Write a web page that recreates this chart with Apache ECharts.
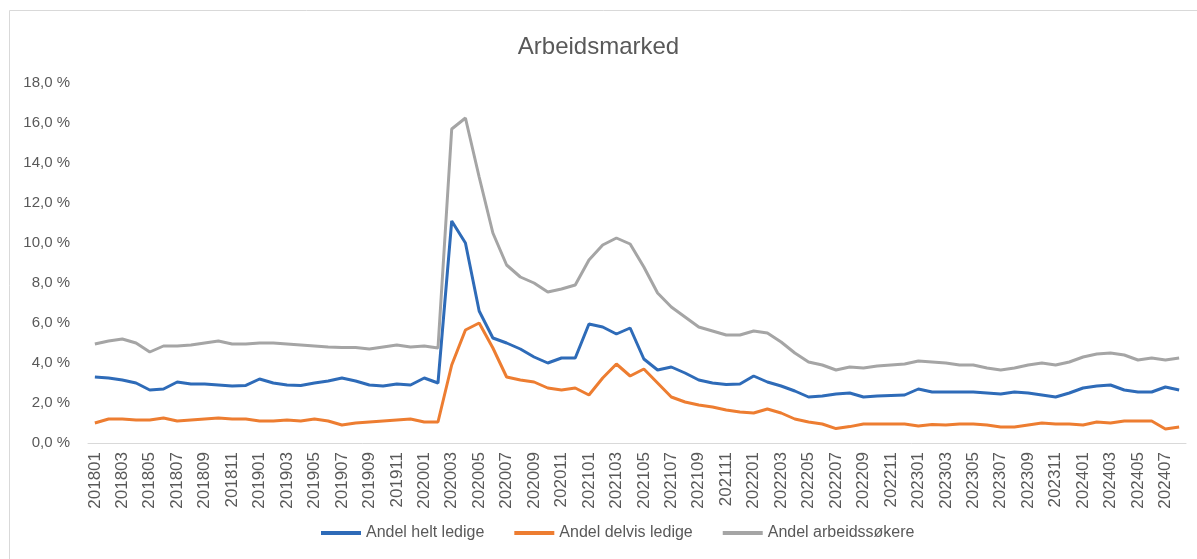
<!DOCTYPE html>
<html lang="no">
<head>
    <meta charset="UTF-8">
    <title>Arbeidsmarked</title>
    <script src="https://cdn.jsdelivr.net/npm/echarts@6/dist/echarts.min.js"></script>
    <style>
        html, body {margin: 0; padding: 0; background: #fff;}
        #main {width: 1197px; height: 559px;}
    </style>
</head>
<body>
    <div id="main"></div>
    <script>
    // kategorier (måned)
    var months = [
        '201801','201802','201803','201804','201805','201806','201807','201808','201809','201810','201811','201812',
        '201901','201902','201903','201904','201905','201906','201907','201908','201909','201910','201911','201912',
        '202001','202002','202003','202004','202005','202006','202007','202008','202009','202010','202011','202012',
        '202101','202102','202103','202104','202105','202106','202107','202108','202109','202110','202111','202112',
        '202201','202202','202203','202204','202205','202206','202207','202208','202209','202210','202211','202212',
        '202301','202302','202303','202304','202305','202306','202307','202308','202309','202310','202311','202312',
        '202401','202402','202403','202404','202405','202406','202407','202408'
    ];

    // andeler i prosent
    var heltLedige = [
        3.3, 3.25, 3.15, 3.0, 2.65, 2.7, 3.05, 2.95, 2.95, 2.9, 2.85, 2.88,
        3.2, 3.0, 2.9, 2.88, 3.0, 3.1, 3.25, 3.1, 2.9, 2.85, 2.95, 2.9,
        3.25, 3.0, 11.1, 10.0, 6.6, 5.25, 5.0, 4.7, 4.3, 4.0, 4.25, 4.25,
        5.95, 5.8, 5.45, 5.75, 4.2, 3.65, 3.8, 3.5, 3.15, 3.0, 2.92, 2.95,
        3.35, 3.05, 2.85, 2.6, 2.3, 2.35, 2.45, 2.5, 2.3, 2.35, 2.38, 2.4,
        2.7, 2.55, 2.55, 2.55, 2.55, 2.5, 2.45, 2.55, 2.5, 2.4, 2.3, 2.5,
        2.75, 2.85, 2.9, 2.65, 2.55, 2.55, 2.8, 2.65
    ];
    var delvisLedige = [
        1.0, 1.2, 1.2, 1.15, 1.15, 1.25, 1.1, 1.15, 1.2, 1.25, 1.2, 1.2,
        1.1, 1.1, 1.15, 1.1, 1.2, 1.1, 0.9, 1.0, 1.05, 1.1, 1.15, 1.2,
        1.05, 1.05, 3.9, 5.65, 6.0, 4.75, 3.3, 3.15, 3.05, 2.75, 2.65, 2.75,
        2.4, 3.25, 3.95, 3.35, 3.7, 3.0, 2.3, 2.05, 1.9, 1.8, 1.65, 1.55,
        1.5, 1.7, 1.5, 1.2, 1.05, 0.95, 0.72, 0.82, 0.95, 0.95, 0.95, 0.95,
        0.85, 0.92, 0.9, 0.95, 0.95, 0.9, 0.8, 0.8, 0.9, 1.0, 0.95, 0.95,
        0.9, 1.05, 1.0, 1.1, 1.1, 1.1, 0.7, 0.8
    ];
    var arbeidssokere = [
        4.95, 5.1, 5.2, 5.0, 4.55, 4.85, 4.85, 4.9, 5.0, 5.1, 4.95, 4.95,
        5.0, 5.0, 4.95, 4.9, 4.85, 4.8, 4.78, 4.78, 4.7, 4.8, 4.9, 4.8,
        4.85, 4.75, 15.7, 16.25, 13.3, 10.5, 8.9, 8.3, 8.0, 7.55, 7.7, 7.9,
        9.15, 9.9, 10.25, 9.95, 8.8, 7.5, 6.8, 6.3, 5.8, 5.6, 5.4, 5.4,
        5.6, 5.5, 5.05, 4.5, 4.05, 3.9, 3.65, 3.8, 3.75, 3.85, 3.9, 3.95,
        4.1, 4.05, 4.0, 3.9, 3.9, 3.75, 3.65, 3.75, 3.9, 4.0, 3.9, 4.05,
        4.3, 4.45, 4.5, 4.4, 4.15, 4.25, 4.15, 4.25
    ];

    var seriesNames = ['Andel helt ledige', 'Andel delvis ledige', 'Andel arbeidssøkere'];
    var colors = ['#2E6BB8', '#ED7D31', '#A5A5A5'];

    var myChart = echarts.init(document.getElementById('main'));
    var font = '"Liberation Sans", Arial, sans-serif';

    function lineSeries(name, data, color) {
        return {
            name: name,
            type: 'line',
            data: data,
            showSymbol: false,
            symbol: 'none',
            smooth: false,
            lineStyle: {width: 3, color: color},
            itemStyle: {color: color}
        };
    }

    var option = {
        animation: false,
        textStyle: {fontFamily: font},
        title: {
            text: 'Arbeidsmarked',
            left: 'center',
            top: 30,
            textStyle: {fontSize: 24, fontWeight: 'normal', color: '#595959', fontFamily: font}
        },
        graphic: [{
            type: 'rect',
            shape: {x: 9.5, y: 10.5, width: 1400, height: 800},
            style: {fill: 'none', stroke: '#D9D9D9', lineWidth: 1},
            silent: true
        }],
        legend: {
            bottom: 13,
            left: 316,
            icon: 'rect',
            itemWidth: 40,
            itemHeight: 4,
            itemGap: 30,
            textStyle: {fontSize: 16, color: '#595959', fontFamily: font},
            data: seriesNames
        },
        grid: {left: 88, right: 11, top: 83, bottom: 116},
        xAxis: {
            type: 'category',
            data: months,
            boundaryGap: true,
            axisLine: {lineStyle: {color: '#D9D9D9', width: 1}},
            axisTick: {show: false},
            axisLabel: {
                rotate: 90,
                interval: 1,
                margin: 9,
                fontSize: 17,
                color: '#595959',
                fontFamily: font
            },
            splitLine: {show: false}
        },
        yAxis: {
            type: 'value',
            min: 0,
            max: 18,
            interval: 2,
            axisLine: {show: false},
            axisTick: {show: false},
            splitLine: {show: false},
            axisLabel: {
                margin: 18,
                fontSize: 15,
                color: '#595959',
                fontFamily: font,
                formatter: function (v) {
                    return v.toFixed(1).replace('.', ',') + ' %';
                }
            }
        },
        series: [
            lineSeries(seriesNames[0], heltLedige, colors[0]),
            lineSeries(seriesNames[1], delvisLedige, colors[1]),
            lineSeries(seriesNames[2], arbeidssokere, colors[2])
        ]
    };
    myChart.setOption(option);
    </script>
</body>
</html>
